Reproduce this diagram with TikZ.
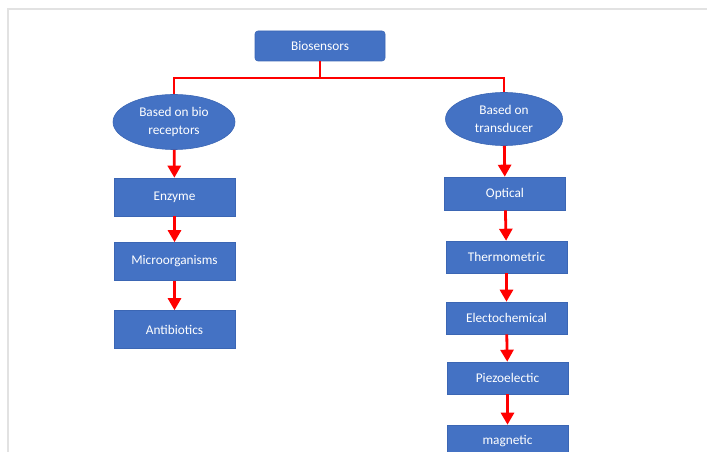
\documentclass[tikz,border=0pt]{standalone}
\usepackage{fontspec}
\setmainfont{Carlito}
\usetikzlibrary{shapes.geometric, arrows.meta, positioning}
\definecolor{boxblue}{HTML}{4472C4}
\definecolor{boxedge}{HTML}{3B66B4}
\definecolor{framegray}{HTML}{E2E2E2}

\begin{document}
\begin{tikzpicture}[x=1bp, y=-1bp,
    box/.style={rectangle, fill=boxblue, draw=boxedge, line width=0.6bp, text=white,
        minimum width=121bp, minimum height=33bp, inner sep=2bp,
        font=\fontsize{13.3bp}{18bp}\selectfont},
    oval/.style={ellipse, fill=boxblue, draw=boxedge, line width=0.6bp, text=white,
        align=center, inner sep=0pt, font=\fontsize{13.3bp}{18bp}\selectfont},
    link/.style={red, line width=2.8bp},
    flow/.style={link, -{Triangle[length=12bp, width=13bp]}}]
    \useasboundingbox (0,0) rectangle (707,452);

    % Rahmen
    \draw[framegray, line width=1.5bp] (8,452) -- (8,9) -- (707,9);

    % Wurzel und Zweige
    \node[box, rounded corners=3bp, minimum width=130bp, minimum height=30bp] (bio) at (320,46) {Biosensors};
    \node[oval, minimum width=122bp, minimum height=55bp] (recep) at (174,122) {Based on bio\\receptors};
    \node[oval, minimum width=117bp, minimum height=53bp] (trans) at (504,119) {Based on\\transducer};
    \coordinate (bus) at (320,78);

    % linke Spalte
    \node[box, minimum height=38bp] (enzyme) at (174.5,197) {Enzyme};
    \node[box, minimum height=38bp] (micro) at (174.5,261.5) {Microorganisms};
    \node[box, minimum height=38bp] (anti) at (174.5,329.5) {Antibiotics};

    % rechte Spalte
    \node[box] (optical) at (505,193.5) {Optical};
    \node[box, minimum height=32bp] (thermo) at (506.5,257) {Thermometric};
    \node[box, minimum height=32bp] (electo) at (506.5,318) {Electochemical};
    \node[box, minimum height=32bp] (piezo) at (507.5,378) {Piezoelectic};
    \node[box, minimum height=32bp] (magnet) at (507.5,441) {magnetic};

    % Verbindungen
    \draw[link] (bio) -- (bus);
    \draw[link] (recep) |- (bus) -| (trans);
    \draw[flow] (recep) -- (enzyme);
    \draw[flow] (enzyme) -- (micro);
    \draw[flow] (micro) -- (anti);
    \draw[flow] (trans) -- (optical);
    \draw[flow] (optical) -- (thermo);
    \draw[flow] (thermo) -- (electo);
    \draw[flow] (electo) -- (piezo);
    \draw[flow] (piezo) -- (magnet);
\end{tikzpicture}
\end{document}
